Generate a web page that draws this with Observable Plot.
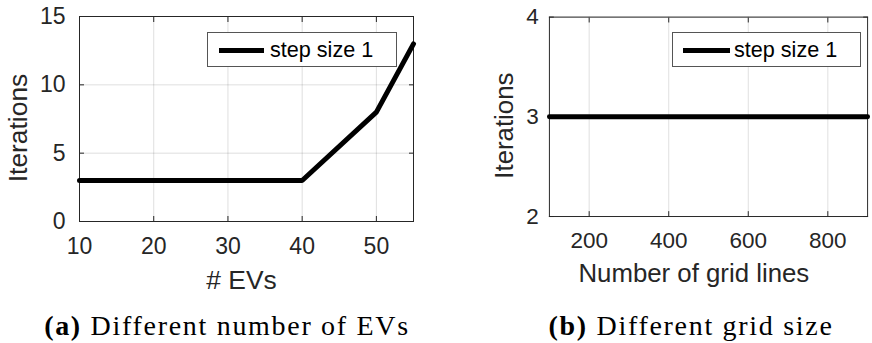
<!DOCTYPE html>
<html>
<head>
<meta charset="utf-8">
<script src="https://cdn.jsdelivr.net/npm/d3@7"></script>
<script src="https://cdn.jsdelivr.net/npm/@observablehq/plot@0.6"></script>
<style>
  html, body { margin: 0; padding: 0; background: #fff; }
  #wrap { position: relative; width: 872px; height: 343px; overflow: hidden; background: #fff; }
  .panel { position: absolute; top: 0; }
  #wrap svg [aria-label$="tick label"], #wrap svg [aria-label$="tick label"] text { font-size: 23px !important; }
  .legend { position: absolute; box-sizing: border-box; border: 1px solid #555; background: #fff;
            font-family: "Liberation Sans", Arial, sans-serif; font-size: 21.6px; color: #000; }
  .legend .swatch { position: absolute; top: 15px; height: 5px; background: #000; }
  .legend .lab { position: absolute; top: 4px; line-height: 26px; white-space: nowrap; }
  .caption { position: absolute; top: 310px; font-family: "Liberation Serif", "Times New Roman", serif;
             font-size: 28px; line-height: 32px; color: #000; white-space: nowrap; transform: translateX(-50%); letter-spacing: 1.7px; }
  .caption b { font-weight: bold; }
</style>
</head>
<body>
<div id="wrap">
  <div id="pa" class="panel" style="left:0"></div>
  <div id="pb" class="panel" style="left:436px"></div>
  <div class="legend" style="left:207px; top:32px; width:190px; height:35px;">
    <div class="swatch" style="left:11px; width:45px;"></div>
    <div class="lab" style="left:62px;">step size 1</div>
  </div>
  <div class="legend" style="left:672px; top:32px; width:189px; height:35px;">
    <div class="swatch" style="left:10px; width:47px;"></div>
    <div class="lab" style="left:61px;">step size 1</div>
  </div>
  <div class="caption" style="left:227px;"><b>(a)</b> Different number of EVs</div>
  <div class="caption" style="left:691px;"><b>(b)</b> Different grid size</div>
</div>
<script>
// Panel (a): different number of EVs
const evCounts = [10, 20, 30, 40, 50, 55];
const evIterations = [3, 3, 3, 3, 8, 13];
const evTicks = [10, 20, 30, 40, 50];
const evIterTicks = [0, 5, 10, 15];

// Panel (b): different grid size
const gridLines = [100, 200, 300, 400, 500, 600, 700, 800, 900];
const gridIterations = [3, 3, 3, 3, 3, 3, 3, 3, 3];
const gridTicks = [200, 400, 600, 800];
const gridIterTicks = [2, 3, 4];

const axisColor = "#262626";
const font = "'Liberation Sans', Arial, sans-serif";
const fmt = d3.format("d");

function panel({xs, ys, xDomain, yDomain, xTicks, yTicks, xLabel, width, marginLeft, marginRight, marginTop, yPad, yLabelDx, xLabelDx}) {
  const data = xs.map((x, i) => ({x, y: ys[i]}));
  return Plot.plot({
    width, height: 290,
    marginLeft, marginRight, marginTop, marginBottom: 69,
    style: {fontFamily: font, fontSize: "23px", color: axisColor, background: "transparent", overflow: "visible"},
    x: {domain: xDomain},
    y: {domain: yDomain},
    marks: [
      Plot.gridX(xTicks, {stroke: axisColor, strokeOpacity: 0.15}),
      Plot.gridY(yTicks, {stroke: axisColor, strokeOpacity: 0.15}),
      Plot.frame({stroke: axisColor, strokeWidth: 1}),
      Plot.axisX(xTicks, {anchor: "bottom", tickSize: -5, tickFormat: () => "", label: null, stroke: axisColor}),
      Plot.axisX(xTicks, {anchor: "top", tickSize: -5, tickFormat: () => "", label: null, stroke: axisColor}),
      Plot.axisY(yTicks, {anchor: "left", tickSize: -5, tickFormat: () => "", label: null, stroke: axisColor}),
      Plot.axisY(yTicks, {anchor: "right", tickSize: -5, tickFormat: () => "", label: null, stroke: axisColor}),
      Plot.axisX(xTicks, {anchor: "bottom", tickSize: 0, tickPadding: 16, fontSize: 23, fill: axisColor, tickFormat: fmt, label: null}),
      Plot.axisY(yTicks, {anchor: "left", tickSize: 0, tickPadding: yPad, fontSize: 23, fill: axisColor, tickFormat: fmt, label: null}),
      Plot.text([xLabel], {frameAnchor: "bottom", dx: xLabelDx, dy: 67, lineAnchor: "bottom", textAnchor: "middle",
        fontSize: 26.4, fill: axisColor}),
      Plot.text(["Iterations"], {frameAnchor: "left", rotate: -90, dx: yLabelDx, dy: 9, lineAnchor: "top", textAnchor: "middle",
        fontSize: 26.4, fill: axisColor}),
      Plot.line(data, {x: "x", y: "y", stroke: "#000", strokeWidth: 5, strokeLinejoin: "miter"})
    ]
  });
}

const a = panel({xs: evCounts, ys: evIterations, xDomain: [10, 55], yDomain: [0, 15],
  xTicks: evTicks, yTicks: evIterTicks, xLabel: "# EVs",
  width: 436, marginLeft: 79, marginRight: 23, marginTop: 16, yPad: 14, yLabelDx: -71, xLabelDx: -5});
document.getElementById("pa").appendChild(a);

const b = panel({xs: gridLines, ys: gridIterations, xDomain: [100, 900], yDomain: [2, 4],
  xTicks: gridTicks, yTicks: gridIterTicks, xLabel: "Number of grid lines",
  width: 446, marginLeft: 115.5, marginRight: 5, marginTop: 17, yPad: 11, yLabelDx: -55.5, xLabelDx: -15});
document.getElementById("pb").appendChild(b);
</script>
</body>
</html>
